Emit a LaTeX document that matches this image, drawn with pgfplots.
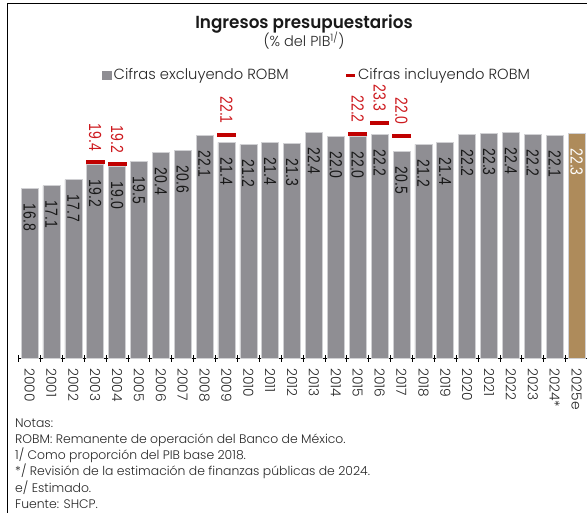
\documentclass[border=0pt]{standalone}
\usepackage{pgfplots}
\usepackage{pgfplotstable}
\pgfplotsset{compat=1.18}
\usepackage{fontspec}
\setmainfont{Poppins}[UprightFont=* Light, BoldFont=* SemiBold]
\newfontfamily\titlefont{Poppins SemiBold}[FakeStretch=0.96]
\newfontfamily\narrowfont{Liberation Sans}[FakeStretch=0.8]
\definecolor{bargray}{RGB}{143,142,147}
\definecolor{bartan}{RGB}{174,139,91}
\definecolor{robmred}{RGB}{192,0,0}
\definecolor{lblred}{RGB}{205,25,30}
\definecolor{edgegray}{RGB}{208,208,211}

\pgfplotstableread{
x v
0 16.8
1 17.1
2 17.7
3 19.2
4 19.0
5 19.5
6 20.4
7 20.6
8 22.1
9 21.4
10 21.2
11 21.4
12 21.3
13 22.4
14 22.0
15 22.0
16 22.2
17 20.5
18 21.2
19 21.4
20 22.2
21 22.3
22 22.4
23 22.2
24 22.1
}\excl

\pgfplotstableread{
x v
25 22.3
}\estim

\pgfplotstableread{
x v
3 19.4
4 19.2
9 22.1
15 22.2
16 23.3
17 22.0
}\robm

\begin{document}
\begin{tikzpicture}
\begin{axis}[
  at={(18.6pt,154pt)}, anchor=south west,
  scale only axis, width=568.9pt, height=252pt,
  xmin=-0.5, xmax=25.5, ymin=0, ymax=25,
  clip=false,
  axis y line=none,
  axis x line=bottom,
  x axis line style={-, line width=1pt, black},
  xtick={0,...,25},
  xticklabels={2000,2001,2002,2003,2004,2005,2006,2007,2008,2009,2010,2011,2012,2013,2014,2015,2016,2017,2018,2019,2020,2021,2022,2023,2024*,2025e},
  minor xtick={-0.5,0.5,...,25.5},
  major tick length=0pt,
  minor tick length=7pt,
  tick align=center,
  every tick/.style={black, line width=0.8pt},
  xticklabel style={yshift=-10pt, rotate=-90, anchor=west, inner sep=0pt, font=\fontsize{13.8}{15}\selectfont, text=black!85},
  /pgf/number format/assume math mode=true,
  legend columns=2,
  legend style={at={(0.1457,1.123)}, anchor=west, draw=none, fill=none, inner sep=0pt,
    font=\fontsize{14.7}{16}\selectfont, text=black!85,
    /tikz/every even column/.append style={column sep=54pt}},
  legend cell align=left,
]
\addplot[ybar, bar width=17pt, bar shift=0pt, fill=bargray, draw=edgegray, line width=0.6pt,
  legend image code/.code={\fill[bargray] (0pt,-4.1pt) rectangle (9.4pt,4.1pt);},
  nodes near coords={\pgfmathprintnumber[fixed,fixed zerofill,precision=1]{\pgfplotspointmeta}},
  nodes near coords style={yshift=-15pt, rotate=-90, anchor=west, inner sep=0pt,
    font=\narrowfont\fontsize{17.5}{18}\selectfont, text=black!90}]
  table[x=x,y=v]{\excl};
\addlegendentry{Cifras excluyendo ROBM}
\addplot[only marks, mark=-, mark size=9.5pt, mark options={line width=4pt, robmred},
  legend image code/.code={\draw[robmred, line width=3pt] (0pt,0pt) -- (8.4pt,0pt);},
  nodes near coords={\pgfmathprintnumber[fixed,fixed zerofill,precision=1]{\pgfplotspointmeta}},
  nodes near coords style={yshift=9.5pt, rotate=-90, anchor=east, inner sep=0pt,
    font=\narrowfont\fontsize{17.5}{18}\selectfont, text=lblred}]
  table[x=x,y=v]{\robm};
\addlegendentry{Cifras incluyendo ROBM}
\addplot[ybar, bar width=17pt, bar shift=0pt, fill=bartan, draw=edgegray, line width=0.6pt, forget plot,
  nodes near coords={\pgfmathprintnumber[fixed,fixed zerofill,precision=1]{\pgfplotspointmeta}},
  nodes near coords style={yshift=-15pt, rotate=-90, anchor=west, inner sep=0pt,
    font=\narrowfont\fontsize{17.5}{18}\selectfont, text=white}]
  table[x=x,y=v]{\estim};
\end{axis}
\node[font=\titlefont\fontsize{17.5}{19}\selectfont, anchor=base, text=black!90] at (304pt,483.5pt) {Ingresos presupuestarios};
\node[font=\fontsize{14.5}{16}\selectfont, anchor=base, text=black!85] at (304pt,465.5pt) {(\% del PIB\textsuperscript{1/})};
\begin{scope}[every node/.style={anchor=base west, inner sep=0pt, font=\fontsize{12.4}{14}\selectfont, text=black!85}]
\node at (15pt,84.7pt) {Notas:};
\node at (15pt,68.5pt) {ROBM: Remanente de operación del Banco de México.};
\node at (15pt,52.2pt) {1/ Como proporción del PIB base 2018.};
\node at (15pt,36pt) {*/ Revisión de la estimación de finanzas públicas de 2024.};
\node at (15pt,19.8pt) {e/ Estimado.};
\node at (15pt,3.6pt) {Fuente: SHCP.};
\end{scope}
\draw[line width=1.2pt] (7.5pt,-5pt) -- (7.5pt,508.7pt) -- (600pt,508.7pt);
\pgfresetboundingbox
\path[use as bounding box] (0pt,0pt) rectangle (587pt,512pt);
\end{tikzpicture}
\end{document}
